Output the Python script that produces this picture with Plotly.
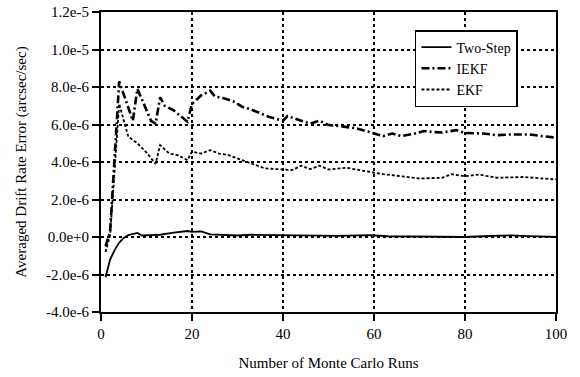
import plotly.graph_objects as go

SCALE = 1e-6

two_step_runs = [1, 2, 3, 4, 5, 6, 8, 9, 11, 13, 16, 19, 20, 22, 24, 27, 30, 33, 37, 40, 44, 48, 52, 56, 59, 63, 67, 71, 75, 80, 84, 88, 90, 94, 97, 100]
two_step_vals = [-2.15, -1.2, -0.7, -0.3, -0.05, 0.1, 0.22, 0.08, 0.1, 0.12, 0.23, 0.32, 0.27, 0.3, 0.14, 0.1, 0.08, 0.12, 0.1, 0.1, 0.06, 0.07, 0.06, 0.1, 0.1, 0.04, 0.03, 0.04, 0.03, 0.0, 0.04, 0.08, 0.09, 0.05, 0.03, 0.0]

iekf_runs = [1, 2, 4, 7, 8, 11, 12, 13, 14, 16, 19, 20, 22, 24, 25, 27, 29, 31, 33, 35, 37, 40, 41, 44, 46, 48, 50, 53, 56, 59, 62, 64, 66, 69, 71, 73, 75, 78, 80, 84, 87, 90, 94, 97, 100]
iekf_vals = [-0.5, 0.3, 8.3, 6.2, 7.9, 6.2, 6.05, 7.45, 7.0, 6.75, 6.15, 7.1, 7.55, 7.8, 7.5, 7.4, 7.25, 6.95, 6.8, 6.6, 6.4, 6.2, 6.45, 6.2, 6.05, 6.2, 5.97, 5.9, 5.8, 5.6, 5.38, 5.52, 5.38, 5.52, 5.65, 5.6, 5.57, 5.7, 5.55, 5.52, 5.43, 5.47, 5.47, 5.38, 5.3]

ekf_runs = [1, 2, 4, 6, 8, 10, 12, 13, 15, 17, 19, 20, 22, 24, 26, 28, 31, 33, 36, 40, 42, 44, 46, 48, 50, 54, 57, 60, 62, 66, 70, 75, 77, 80, 83, 87, 90, 93, 97, 100]
ekf_vals = [-0.8, 0.1, 7.1, 5.35, 5.0, 4.5, 3.9, 4.9, 4.45, 4.35, 4.1, 4.55, 4.45, 4.63, 4.45, 4.37, 4.1, 3.92, 3.66, 3.6, 3.57, 3.8, 3.62, 3.8, 3.6, 3.69, 3.57, 3.44, 3.35, 3.24, 3.12, 3.16, 3.35, 3.24, 3.33, 3.16, 3.18, 3.2, 3.12, 3.07]

x_ticks = [0, 20, 40, 60, 80, 100]
y_tick_vals = [-4e-6, -2e-6, 0, 2e-6, 4e-6, 6e-6, 8e-6, 1.0e-5, 1.2e-5]
y_tick_text = ["-4.0e-6", "-2.0e-6", "0.0e+0", "2.0e-6", "4.0e-6", "6.0e-6", "8.0e-6", "1.0e-5", "1.2e-5"]

FONT = "Liberation Serif"
FS = 15

fig = go.Figure()
fig.add_trace(go.Scatter(x=two_step_runs, y=[v * SCALE for v in two_step_vals], mode="lines",
                         name="Two-Step", line=dict(color="black", width=1.8)))
fig.add_trace(go.Scatter(x=iekf_runs, y=[v * SCALE for v in iekf_vals], mode="lines",
                         name="IEKF", line=dict(color="black", width=2.6, dash="8px,3px,2px,3px")))
fig.add_trace(go.Scatter(x=ekf_runs, y=[v * SCALE for v in ekf_vals], mode="lines",
                         name="EKF", line=dict(color="black", width=1.8, dash="3px,2px")))

fig.update_layout(
    width=580, height=377,
    margin=dict(l=101, r=24, t=12, b=65),
    paper_bgcolor="white", plot_bgcolor="white",
    font=dict(family=FONT, size=FS, color="black"),
    showlegend=True,
    legend=dict(x=0.69, y=0.94, xanchor="left", yanchor="top",
                bgcolor="white", bordercolor="black", borderwidth=1.5,
                font=dict(family=FONT, size=14, color="black"),
                tracegroupgap=0, itemwidth=30),
    xaxis=dict(range=[0, 100], tickvals=x_ticks, ticks="outside", ticklen=7, tickwidth=1.5,
               tickcolor="black", showline=True, linewidth=2, linecolor="black", mirror=True,
               showgrid=True, gridcolor="black", gridwidth=1.5, griddash="dot", zeroline=False,
               automargin=False,
               title=dict(text="Number of Monte Carlo Runs", standoff=16,
                          font=dict(family=FONT, size=FS)),
               tickfont=dict(family=FONT, size=FS)),
    yaxis=dict(range=[-4e-6, 1.2e-5], tickvals=y_tick_vals, ticktext=y_tick_text,
               ticks="outside", ticklen=7, tickwidth=1.5, tickcolor="black",
               showline=True, linewidth=2, linecolor="black", mirror=True,
               showgrid=True, gridcolor="black", gridwidth=1.5, griddash="dot", zeroline=False,
               automargin=False,
               title=dict(text="Averaged Drift Rate Error (arcsec/sec)", standoff=16,
                          font=dict(family=FONT, size=FS)),
               tickfont=dict(family=FONT, size=FS)),
)

fig.write_html("out.html")
